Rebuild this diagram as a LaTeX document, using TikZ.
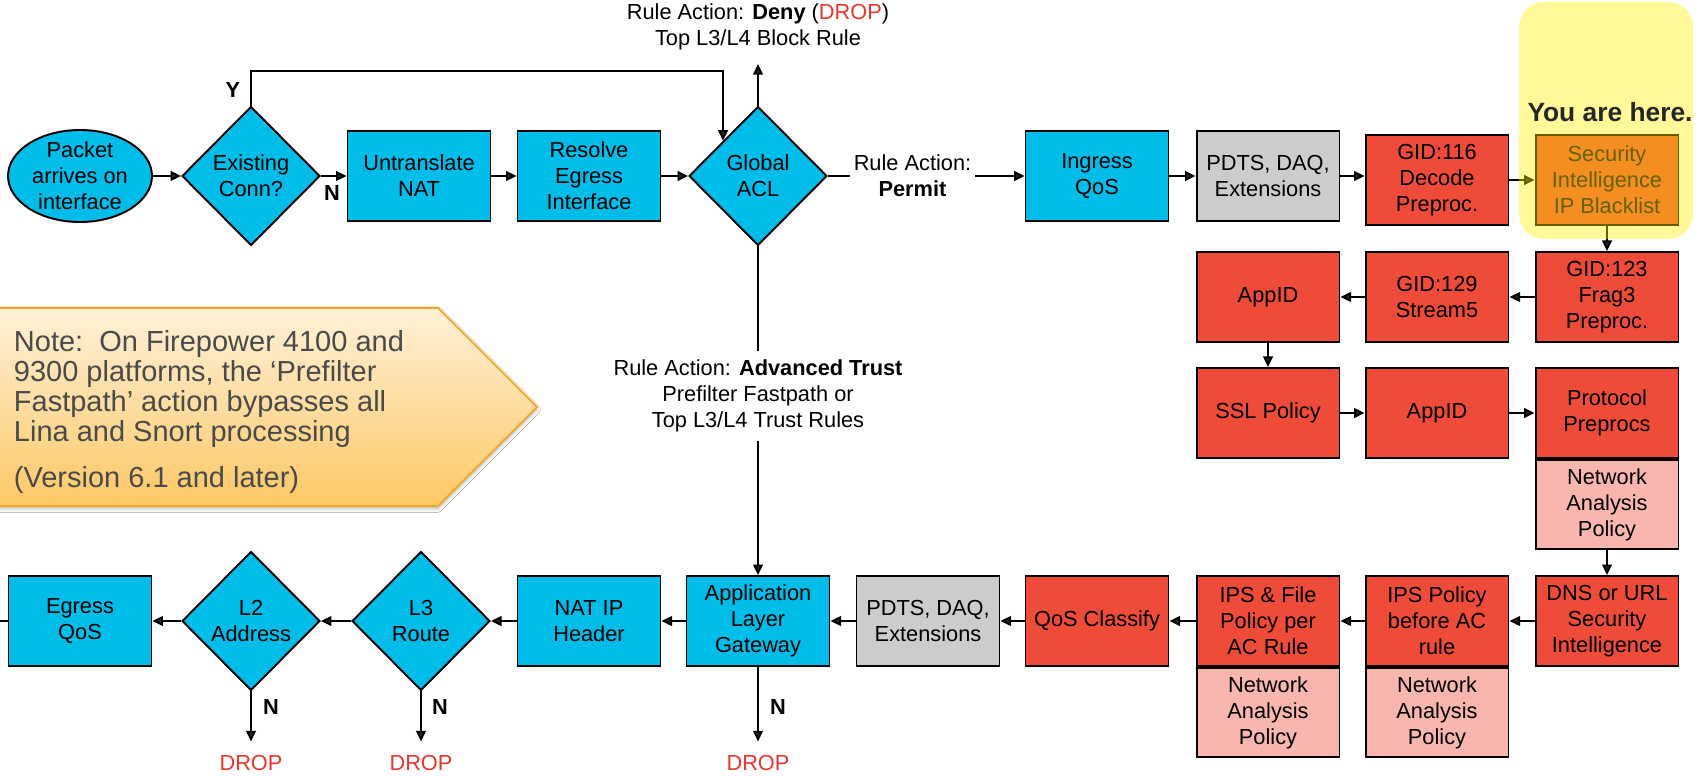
\documentclass[tikz,border=0pt]{standalone}
\usepackage{fontspec}
\setmainfont{Liberation Sans}
\usepackage{xcolor}
\usetikzlibrary{shapes.geometric, arrows.meta, positioning, shadows.blur}
\definecolor{linablue}{HTML}{00BCE8}
\definecolor{snortred}{HTML}{EE4C38}
\definecolor{nappink}{HTML}{F9B6AE}
\definecolor{daqgray}{HTML}{CCCCCC}
\definecolor{dropred}{HTML}{E8372C}
\definecolor{notetop}{HTML}{FFF1D8}
\definecolor{notebottom}{HTML}{FCC866}
\definecolor{noteedge}{HTML}{F5A623}
\definecolor{notetext}{HTML}{4A4A4A}

\begin{document}
\begin{tikzpicture}[x=0.02cm, y=-0.02cm, line width=1.1pt, font=\fontsize{12.4}{14.8}\selectfont,
    linabox/.style={rectangle, draw, fill=linablue, minimum width=2.86cm, minimum height=1.8cm, inner sep=0pt, align=center},
    snortbox/.style={linabox, fill=snortred},
    daqbox/.style={linabox, fill=daqgray},
    napbox/.style={linabox, fill=nappink, minimum height=1.78cm},
    decision/.style={diamond, draw, fill=linablue, minimum width=2.76cm, minimum height=2.78cm, inner sep=0pt, align=center},
    flow/.style={-{Triangle[length=6pt, width=5.5pt]}},
    branch/.style={font=\fontsize{12.4}{14.8}\selectfont\bfseries},
    droptext/.style={text=dropred},
    rulelabel/.style={fill=white, align=center, inner xsep=2pt, inner ysep=5pt}]
    \fill[white] (0,0) rectangle (1699,776);
    \useasboundingbox (0,0) rectangle (1699,776);

    % Fastpath note
    \draw[draw=noteedge, line width=1pt, top color=notetop, bottom color=notebottom,
        blur shadow={shadow xshift=0pt, shadow yshift=-1.5pt, shadow opacity=30}]
        (-5,308) -- (438,308) -- (537,407) -- (438,506) -- (-5,506) -- cycle;
    \node[anchor=west, align=left, text=notetext, font=\fontsize{16.5}{17}\selectfont, inner sep=0pt] (note) at (13,412)
        {Note:\ \ On Firepower 4100 and\\9300 platforms, the ‘Prefilter\\Fastpath’ action bypasses all\\Lina and Snort processing\\[9pt](Version 6.1 and later)};

    % Ingress path
    \node[ellipse, draw, fill=linablue, minimum width=2.88cm, minimum height=1.84cm, inner sep=0pt] (pkt) at (80,176) {};
    \node[align=center] (pkttext) at (pkt.center) {Packet\\arrives on\\interface};
    \node[decision] (conn) at (251,176) {Existing\\Conn?};
    \node[linabox] (untr) at (419,176) {Untranslate\\NAT};
    \node[linabox] (egrif) at (589,176) {Resolve\\Egress\\Interface};
    \node[decision] (acl) at (758,176) {Global\\ACL};
    \node[linabox] (inqos) at (1097,176) {Ingress\\QoS};
    \node[daqbox] (daqin) at (1268,176) {PDTS, DAQ,\\Extensions};
    \node[snortbox] (gid116) at (1437,180) {GID:116\\Decode\\Preproc.};
    \node[snortbox] (siip) at (1607,180) {Security\\Intelligence\\IP Blacklist};

    % Snort preprocessors
    \node[snortbox] (gid123) at (1607,297) {GID:123\\Frag3\\Preproc.};
    \node[snortbox] (gid129) at (1437,297) {GID:129\\Stream5};
    \node[snortbox] (appid1) at (1268,297) {AppID};
    \node[snortbox] (ssl) at (1268,413) {SSL Policy};
    \node[snortbox] (appid2) at (1437,413) {AppID};
    \node[snortbox] (preproc) at (1607,413) {Protocol\\Preprocs};
    \node[napbox, below=0pt of preproc] (nap1) {Network\\Analysis\\Policy};

    % Egress path
    \node[snortbox] (siurl) at (1607,621) {DNS or URL\\Security\\Intelligence};
    \node[snortbox] (ipspre) at (1437,621) {IPS Policy\\before AC\\rule};
    \node[napbox, below=0pt of ipspre] (nap2) {Network\\Analysis\\Policy};
    \node[snortbox] (ipsac) at (1268,621) {IPS \& File\\Policy per\\AC Rule};
    \node[napbox, below=0pt of ipsac] (nap3) {Network\\Analysis\\Policy};
    \node[snortbox] (qoscl) at (1097,621) {QoS Classify};
    \node[daqbox] (daqout) at (928,621) {PDTS, DAQ,\\Extensions};
    \node[linabox] (alg) at (758,621) {Application\\Layer\\Gateway};
    \node[linabox] (natip) at (589,621) {NAT IP\\Header};
    \node[decision] (l3) at (421,621) {L3\\Route};
    \node[decision] (l2) at (251,621) {L2\\Address};
    \node[linabox] (egqos) at (80,621) {Egress\\QoS};

    % Drop targets and branch labels
    \node[align=center] (deny) at (758,27) {Rule Action: \textbf{Deny} (\textcolor{dropred}{DROP})\\Top L3/L4 Block Rule};
    \node[droptext] (drop1) at (251,763) {DROP};
    \node[droptext] (drop2) at (421,763) {DROP};
    \node[droptext] (drop3) at (758,763) {DROP};
    \node[branch] (ylbl) at (233,90) {Y};
    \node[branch] (nconn) at (332,193) {N};
    \node[branch] (nl2) at (271,707) {N};
    \node[branch] (nl3) at (440,707) {N};
    \node[branch] (nalg) at (778,707) {N};

    % Connectors, ingress
    \coordinate (ybend) at (251,71);
    \coordinate (wire) at (0,621);
    \draw[flow] (pkt.east) -- (conn.west);
    \draw[flow] (conn.east) -- (untr.west);
    \draw[flow] (untr.east) -- (egrif.west);
    \draw[flow] (egrif.east) -- (acl.west);
    \draw[flow] (conn.north) -- (ybend) -| (acl.north west);
    \draw[flow, shorten >=4pt] (acl.north) -- (deny.south);
    \draw[flow] (acl.east) -- node[rulelabel, pos=0.43] (permit) {Rule Action:\\\textbf{Permit}} (inqos.west);
    \draw[flow] (acl.south) -- node[rulelabel, pos=0.456] (trust) {Rule Action: \textbf{Advanced Trust}\\Prefilter Fastpath or\\Top L3/L4 Trust Rules} (alg.north);
    \draw[flow] (inqos.east) -- (daqin.west);
    \draw[flow] (daqin.east) -- (daqin.east -| gid116.west);
    \draw[flow] (gid116.east) -- (siip.west);
    \draw[flow] (siip.south) -- (gid123.north);

    % Connectors, preprocessors
    \draw[flow] (gid123.west) -- (gid129.east);
    \draw[flow] (gid129.west) -- (appid1.east);
    \draw[flow] (appid1.south) -- (ssl.north);
    \draw[flow] (ssl.east) -- (appid2.west);
    \draw[flow] (appid2.east) -- (preproc.west);
    \draw[flow] (nap1.south) -- (siurl.north);

    % Connectors, egress
    \draw[flow] (siurl.west) -- (ipspre.east);
    \draw[flow] (ipspre.west) -- (ipsac.east);
    \draw[flow] (ipsac.west) -- (qoscl.east);
    \draw[flow] (qoscl.west) -- (daqout.east);
    \draw[flow] (daqout.west) -- (alg.east);
    \draw[flow] (alg.west) -- (natip.east);
    \draw[flow] (natip.west) -- (l3.east);
    \draw[flow] (l3.west) -- (l2.east);
    \draw[flow] (l2.west) -- (egqos.east);
    \draw (egqos.west) -- (wire);
    \draw[flow, shorten >=4pt] (l2.south) -- (drop1.north);
    \draw[flow, shorten >=4pt] (l3.south) -- (drop2.north);
    \draw[flow, shorten >=4pt] (alg.south) -- (drop3.north);

    % Highlight
    \fill[yellow, opacity=0.4, rounded corners=0.5cm] (1519,2) rectangle (1693,239);
    \node[font=\fontsize{15}{18}\selectfont\bfseries, text=black!85] (here) at (1610,112) {You are here.};
\end{tikzpicture}
\end{document}
